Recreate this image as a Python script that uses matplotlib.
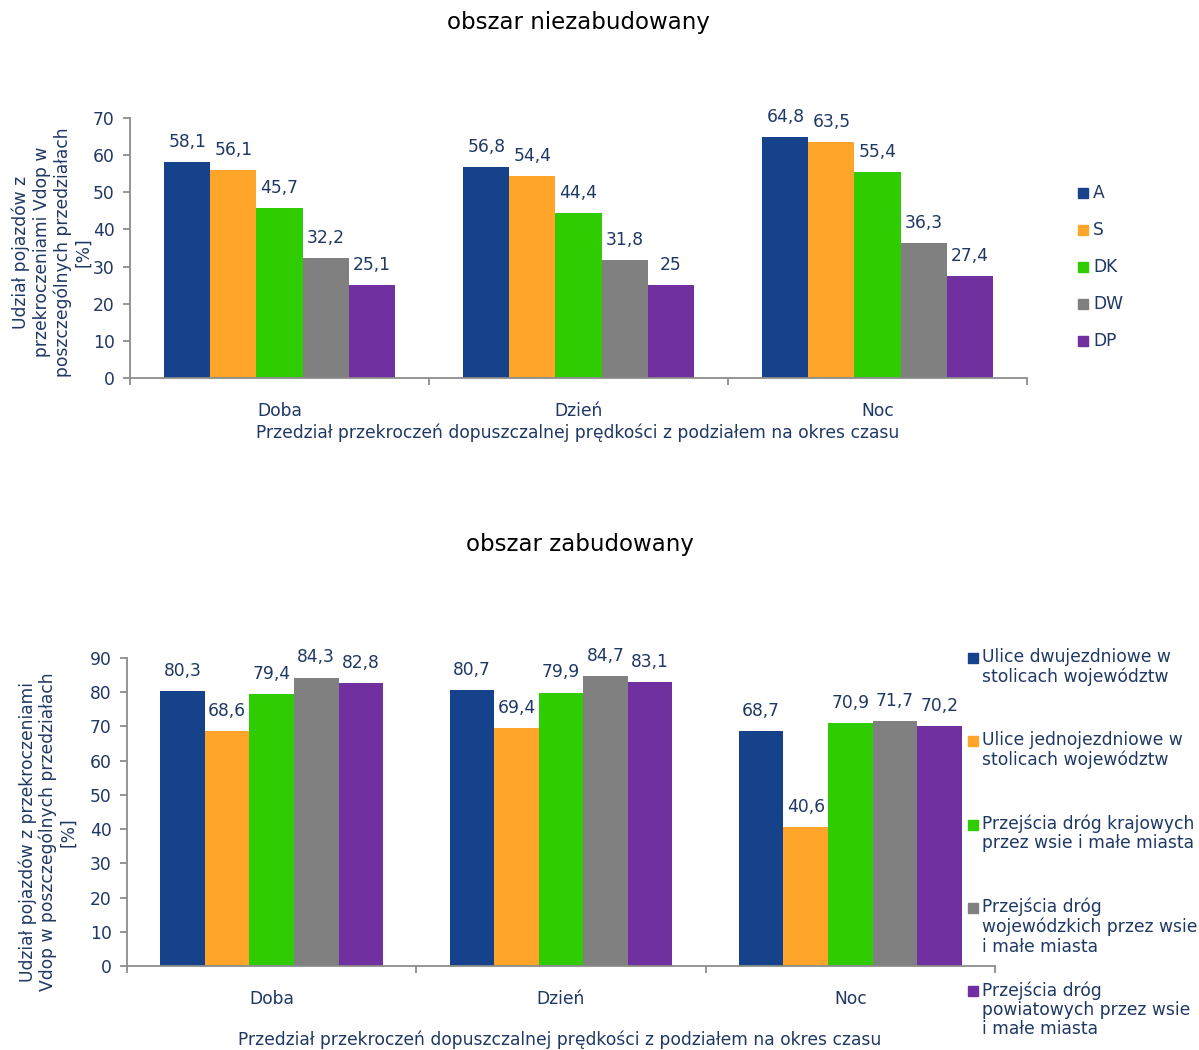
import matplotlib
matplotlib.use("Agg")
import matplotlib.pyplot as plt
from matplotlib.patches import Rectangle
import numpy as np

plt.rcParams['font.family'] = ['DejaVu Sans']

# ---- data ----
periods = ["Doba", "Dzień", "Noc"]

rural_series = ["A", "S", "DK", "DW", "DP"]
rural_values = [
    [58.1, 56.8, 64.8],   # A
    [56.1, 54.4, 63.5],   # S
    [45.7, 44.4, 55.4],   # DK
    [32.2, 31.8, 36.3],   # DW
    [25.1, 25.0, 27.4],   # DP
]

urban_series = [
    "Ulice dwujezdniowe w\nstolicach województw",
    "Ulice jednojezdniowe w\nstolicach województw",
    "Przejścia dróg krajowych\nprzez wsie i małe miasta",
    "Przejścia dróg\nwojewódzkich przez wsie\ni małe miasta",
    "Przejścia dróg\npowiatowych przez wsie\ni małe miasta",
]
urban_values = [
    [80.3, 80.7, 68.7],
    [68.6, 69.4, 40.6],
    [79.4, 79.9, 70.9],
    [84.3, 84.7, 71.7],
    [82.8, 83.1, 70.2],
]

xlabel_text = "Przedział przekroczeń dopuszczalnej prędkości z podziałem na okres czasu"
ylabel_top = ["Udział pojazdów z", "przekroczeniami Vdop w",
              "poszczególnych przedziałach", "[%]"]
ylabel_bottom = ["Udział pojazdów z przekroczeniami",
                 "Vdop w poszczególnych przedziałach", "[%]"]

colors = ["#15428B", "#FFA52A", "#2ECC00", "#808080", "#7030A0"]
TXT = "#1F3864"
AX = "#8C8C8C"
FS = 12.3

W, H = 1199, 1050
fig = plt.figure(figsize=(W / 100, H / 100), dpi=100)


def px_axes(left, right, top, bottom):
    return fig.add_axes([left / W, 1 - bottom / H, (right - left) / W, (bottom - top) / H])


def fmt(v):
    s = f"{v:.1f}".replace(".", ",")
    if s.endswith(",0"):
        s = s[:-2]
    return s


def draw_bars(ax, values, ymax, step):
    n_cat = len(periods)
    n_ser = len(values)
    group = 0.77
    bw = group / n_ser
    x = np.arange(n_cat)
    for i, vals in enumerate(values):
        pos = x - group / 2 + bw * (i + 0.5)
        bars = ax.bar(pos, vals, width=bw, color=colors[i], edgecolor='none', zorder=2)
        for b, v in zip(bars, vals):
            ax.annotate(fmt(v), (b.get_x() + b.get_width() / 2, v),
                        xytext=(0, 8), textcoords="offset points",
                        ha='center', va='bottom', fontsize=FS, color=TXT)
    ax.set_xlim(-0.5, n_cat - 0.5)
    ax.set_ylim(0, ymax)
    ax.set_yticks(np.arange(0, ymax + 1, step))
    ax.set_xticks(np.arange(-0.5, n_cat, 1.0))
    ax.set_xticklabels([])
    for sp in ['top', 'right']:
        ax.spines[sp].set_visible(False)
    for sp in ['left', 'bottom']:
        ax.spines[sp].set_color(AX)
        ax.spines[sp].set_linewidth(1.3)
    ax.tick_params(axis='y', direction='out', length=5, color=AX, width=1.3,
                   labelsize=FS, labelcolor=TXT, pad=6)
    ax.tick_params(axis='x', direction='out', length=5, color=AX, width=1.3)
    # category labels under the axis
    for i, p in enumerate(periods):
        ax.annotate(p, (i, 0), xytext=(0, -24), textcoords="offset points",
                    ha='center', va='center', fontsize=FS, color=TXT,
                    annotation_clip=False)


def vertical_label(lines, xs, yc):
    for line, xp in zip(lines, xs):
        fig.text(xp / W, 1 - yc / H, line, ha='center', va='center', rotation=90,
                 fontsize=FS, color=TXT)


# ---- top chart: rural area ----
ax1 = px_axes(130, 1027, 118, 378)
draw_bars(ax1, rural_values, 70, 10)
fig.text(578 / W, 1 - 22 / H, "obszar niezabudowany", ha='center', va='center',
         fontsize=16.5, color='black')
fig.text(578 / W, 1 - 433 / H, xlabel_text,
         ha='center', va='center', fontsize=FS, color=TXT)
vertical_label(ylabel_top, [21, 42, 63, 83], 252)

# legend for the top chart
for i, name in enumerate(rural_series):
    yc = 193 + 37 * i
    fig.add_artist(Rectangle((1078 / W, 1 - (yc + 5) / H), 10 / W, 10 / H,
                             transform=fig.transFigure, color=colors[i]))
    fig.text(1093 / W, 1 - yc / H, name, ha='left', va='center', fontsize=FS, color=TXT)

# ---- bottom chart: built-up area ----
ax2 = px_axes(127, 995, 658, 966)
draw_bars(ax2, urban_values, 90, 10)
fig.text(580 / W, 1 - 544 / H, "obszar zabudowany", ha='center', va='center',
         fontsize=16.5, color='black')
fig.text(560 / W, 1 - 1040 / H, xlabel_text,
         ha='center', va='center', fontsize=FS, color=TXT)
vertical_label(ylabel_bottom, [28, 48, 68], 832)

# legend for the bottom chart
for i, name in enumerate(urban_series):
    yt = 658 + 83.3 * i
    fig.add_artist(Rectangle((968 / W, 1 - (yt + 5) / H), 10 / W, 10 / H,
                             transform=fig.transFigure, color=colors[i]))
    fig.text(982 / W, 1 - (yt - 10) / H, name, ha='left', va='top', fontsize=FS,
             color=TXT, linespacing=1.1)

fig.savefig("out.png", dpi=100)
